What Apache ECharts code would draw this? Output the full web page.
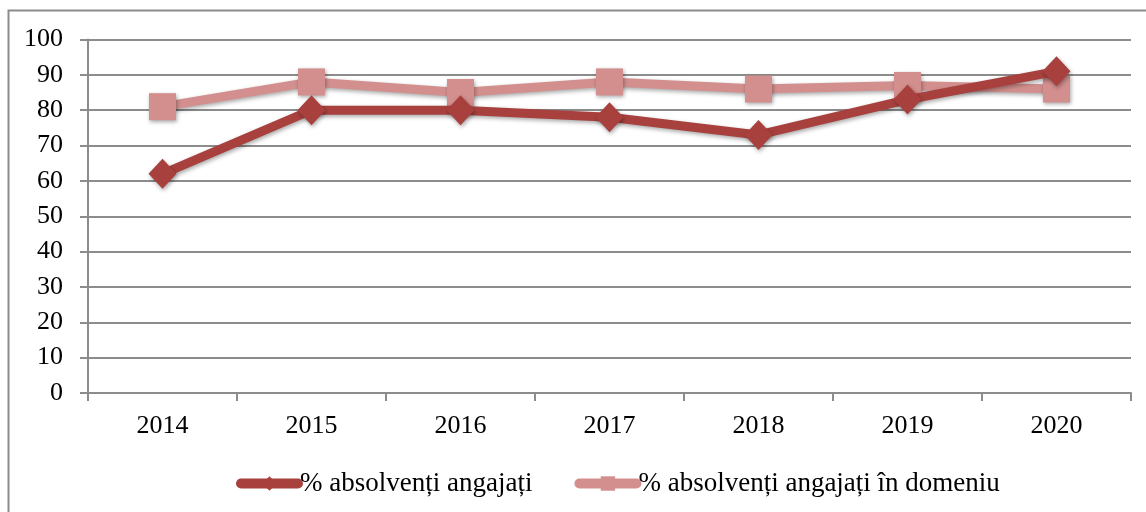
<!DOCTYPE html>
<html>
<head>
<meta charset="utf-8">
<script src="https://cdn.jsdelivr.net/npm/echarts@6/dist/echarts.min.js"></script>
<style>
  html, body { margin: 0; padding: 0; background: #fff; }
  #chart { width: 1146px; height: 512px; }
</style>
</head>
<body>
<div id="chart"></div>
<script>
var chart = echarts.init(document.getElementById('chart'));

// date
var years = ['2014', '2015', '2016', '2017', '2018', '2019', '2020'];
var angajati = [62, 80, 80, 78, 73, 83, 91];
var angajatiDomeniu = [81, 88, 85, 88, 86, 87, 86];
var numeSerii = ['% absolvenți angajați', '% absolvenți angajați în domeniu'];

var font = 'Liberation Serif, Times New Roman, serif';
var shadow = {
    shadowBlur: 4,
    shadowColor: 'rgba(0,0,0,0.35)',
    shadowOffsetX: 1,
    shadowOffsetY: 2
};

var option = {
    animation: false,
    backgroundColor: '#fff',
    textStyle: { fontFamily: font },
    graphic: [{
        type: 'polyline',
        shape: { points: [[8.5, 520], [8.5, 10.5], [1150, 10.5]] },
        style: { stroke: '#8c8c8c', lineWidth: 2, fill: null },
        z: -1
    }],
    grid: { left: 88, right: 15, top: 39.5, bottom: 119, containLabel: false },
    legend: {
        top: 465,
        left: 231,
        itemWidth: 57,
        itemHeight: 18,
        itemGap: 42,
        lineStyle: { width: 10, cap: 'round' },
        textStyle: { fontFamily: font, fontSize: 27, color: '#000', padding: [0, 0, 0, -3] },
        data: numeSerii
    },
    xAxis: {
        type: 'category',
        data: years,
        boundaryGap: true,
        axisLine: { lineStyle: { color: '#8c8c8c', width: 2 } },
        axisTick: { show: true, length: 8, inside: false, lineStyle: { color: '#8c8c8c', width: 2 } },
        axisLabel: { fontFamily: font, fontSize: 26, color: '#000', margin: 20 }
    },
    yAxis: {
        type: 'value',
        min: 0,
        max: 100,
        interval: 10,
        axisLine: { show: true, lineStyle: { color: '#8c8c8c', width: 2 } },
        axisTick: { show: true, length: 8, lineStyle: { color: '#8c8c8c', width: 2 } },
        axisLabel: { fontFamily: font, fontSize: 26, color: '#000', margin: 25 },
        splitLine: { lineStyle: { color: '#8c8c8c', width: 2 } }
    },
    series: [
        {
            name: numeSerii[0],
            type: 'line',
            data: angajati,
            symbol: 'diamond',
            symbolSize: [28, 30],
            z: 3,
            lineStyle: Object.assign({ color: '#a8413e', width: 9, cap: 'round', join: 'round' }, shadow),
            itemStyle: Object.assign({ color: '#a8413e' }, shadow)
        },
        {
            name: numeSerii[1],
            type: 'line',
            data: angajatiDomeniu,
            symbol: 'rect',
            symbolSize: 27,
            z: 2,
            lineStyle: Object.assign({ color: '#d38f8e', width: 9, cap: 'round', join: 'round' }, shadow),
            itemStyle: Object.assign({ color: '#d38f8e' }, shadow)
        }
    ]
};

chart.setOption(option);
</script>
</body>
</html>
